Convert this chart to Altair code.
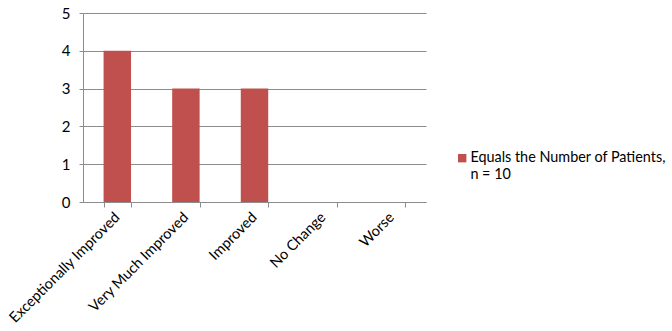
import altair as alt
import pandas as pd

categories = ["Exceptionally Improved", "Very Much Improved", "Improved", "No Change", "Worse"]
patients = [4, 3, 3, 0, 0]
series_name = "Equals the Number of Patients, n = 10"

df = pd.DataFrame({"category": categories, "patients": patients, "series": [series_name] * len(categories)})

FONT = "Lato"
GRID = "#8c8c8c"

bars = alt.Chart(df).mark_bar(color="#C0504D").encode(
    x=alt.X(
        "category:N",
        sort=categories,
        scale=alt.Scale(paddingInner=0.6, paddingOuter=0.3),
        axis=alt.Axis(
            title=None,
            labelAngle=-45,
            labelAlign="right",
            labelBaseline="middle",
            labelFontSize=14.6,
            labelPadding=8,
            labelColor="#000000",
            labelFont=FONT,
            tickBand="extent",
            tickSize=5,
            tickColor=GRID,
            domainColor=GRID,
            grid=False,
        ),
    ),
    y=alt.Y(
        "patients:Q",
        scale=alt.Scale(domain=[0, 5]),
        axis=alt.Axis(
            title=None,
            values=[0, 1, 2, 3, 4, 5],
            labelFontSize=15,
            labelPadding=9,
            labelColor="#000000",
            labelFont=FONT,
            tickSize=4,
            tickColor=GRID,
            domainColor=GRID,
            gridColor=GRID,
        ),
    ),
    color=alt.Color(
        "series:N",
        scale=alt.Scale(range=["#C0504D"]),
        legend=alt.Legend(
            title=None,
            orient="none",
            legendX=372,
            legendY=138,
            symbolType="square",
            symbolSize=70,
            symbolStrokeWidth=0,
            labelFontSize=14.4,
            labelFont=FONT,
            labelColor="#000000",
            labelLimit=300,
            labelOffset=1,
            labelExpr="['Equals the Number of Patients,', 'n = 10']",
        ),
    ),
)

chart = bars.properties(
    width=343,
    height=189,
    autosize=alt.AutoSizeParams(type="none"),
    padding={"left": 83, "top": 13, "right": 246, "bottom": 129},
).configure_view(stroke=None).configure_axis(domainWidth=1, gridWidth=1, tickWidth=1)

chart.save("out.html", embed_options={"renderer": "svg", "actions": False})
